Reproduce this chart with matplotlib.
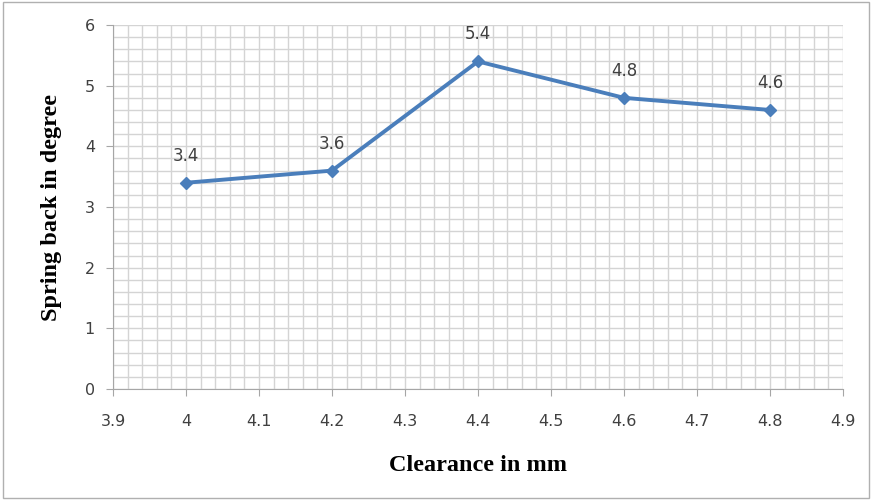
import numpy as np
import matplotlib.pyplot as plt
from matplotlib.ticker import MultipleLocator
from matplotlib.patches import Rectangle

clearance = [4.0, 4.2, 4.4, 4.6, 4.8]
spring_back = [3.4, 3.6, 5.4, 4.8, 4.6]
x_ticks = [3.9, 4.0, 4.1, 4.2, 4.3, 4.4, 4.5, 4.6, 4.7, 4.8, 4.9]
x_tick_labels = ["3.9", "4", "4.1", "4.2", "4.3", "4.4", "4.5", "4.6", "4.7", "4.8", "4.9"]

fig = plt.figure(figsize=(8.72, 5.01), dpi=100)
ax = fig.add_axes([0.1296, 0.2236, 0.8371, 0.7264])

# outer chart border
fig.patches.append(Rectangle((0.003, 0.006), 0.994, 0.99, transform=fig.transFigure,
                             fill=False, edgecolor='#b0b0b0', linewidth=1.0))

ax.plot(clearance, spring_back, color='#4a7ebb', linewidth=2.8, marker='D',
        markersize=6.5, zorder=3)
for x, y in zip(clearance, spring_back):
    ax.annotate(f"{y}", (x, y), xytext=(0, 13), textcoords='offset points',
                ha='center', va='bottom', fontsize=12, color='#404040')

ax.set_xlim(3.9, 4.9)
ax.set_ylim(0, 6)
ax.set_xticks(x_ticks)
ax.set_xticklabels(x_tick_labels)
ax.set_yticks(range(7))
ax.xaxis.set_minor_locator(MultipleLocator(0.02))
ax.yaxis.set_minor_locator(MultipleLocator(0.2))
ax.grid(which='both', color='#d4d4d4', linewidth=1.0)
ax.set_axisbelow(True)
ax.tick_params(which='minor', length=0)
ax.tick_params(axis='x', which='major', pad=13)
ax.tick_params(axis='y', which='major', pad=8)
ax.tick_params(which='major', length=5, color='#a6a6a6', labelsize=11.5,
               labelcolor='#404040')
for side in ['top', 'right']:
    ax.spines[side].set_visible(False)
for side in ['left', 'bottom']:
    ax.spines[side].set_color('#a6a6a6')

ax.set_xlabel('Clearance in mm', fontfamily='Liberation Serif', fontweight='bold',
              fontsize=17.5)
ax.set_ylabel('Spring back in degree', fontfamily='Liberation Serif', fontweight='bold',
              fontsize=17.5)
ax.xaxis.set_label_coords(0.5, -0.209)
ax.yaxis.set_label_coords(-0.0836, 0.5)
ax.xaxis.label.set_va('center')
ax.yaxis.label.set_va('center')

plt.savefig('out.png', dpi=100)
plt.close()
